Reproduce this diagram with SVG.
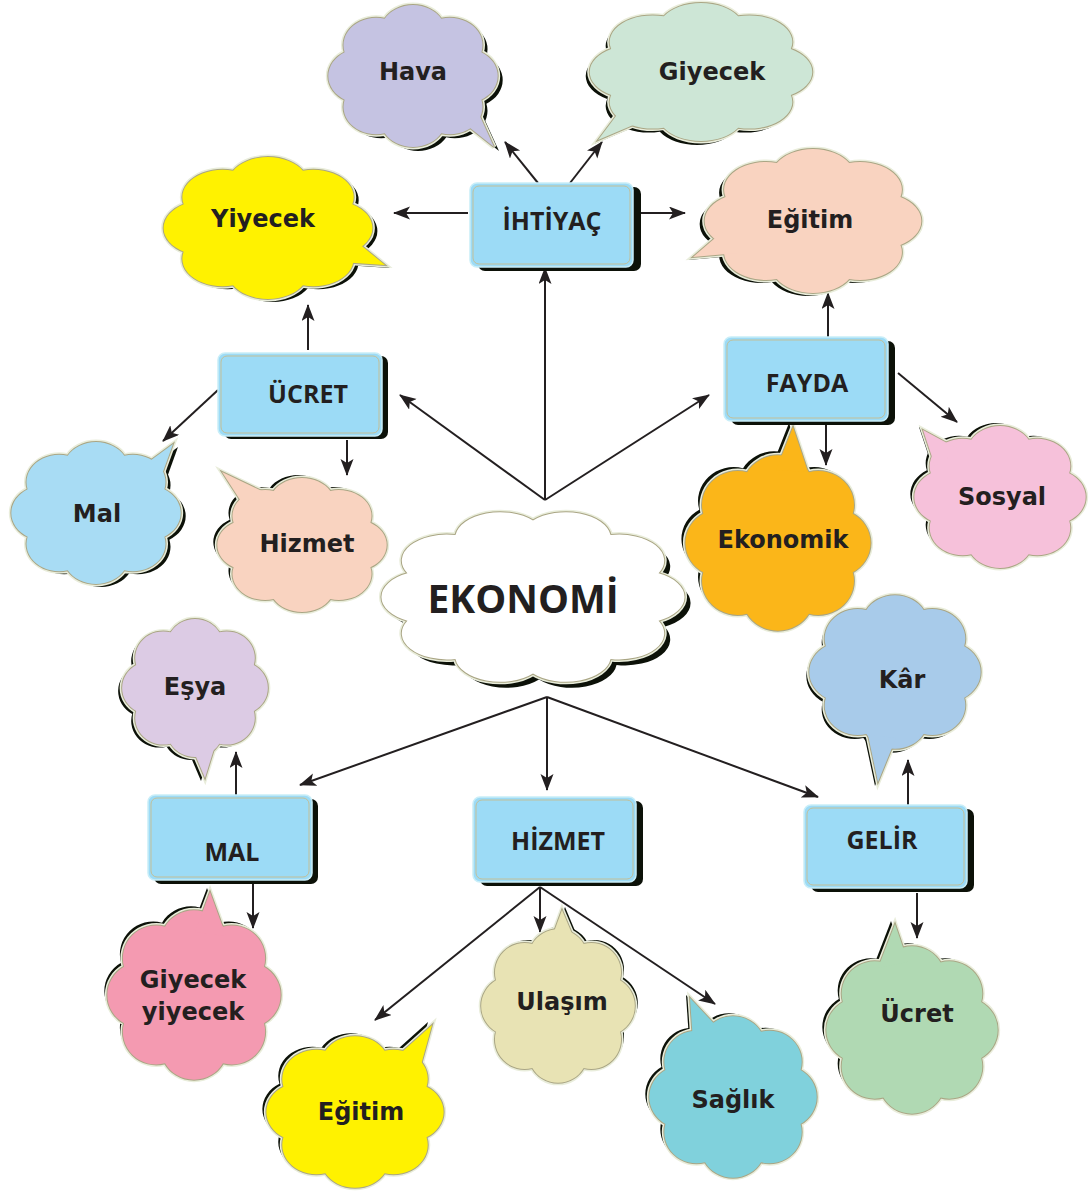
<svg xmlns="http://www.w3.org/2000/svg" xmlns:xlink="http://www.w3.org/1999/xlink" width="1090" height="1193" viewBox="0 0 1090 1193">
<style>
.sh{fill:#0c1108}
.halo{fill:none;stroke:#e9eddb;stroke-width:5}
.line{fill:none;stroke:#aaa685;stroke-width:2}
.ct{font-family:"DejaVu Sans","Liberation Sans",sans-serif;font-weight:bold;font-size:24px;fill:#231f20;text-anchor:middle}
.bs{fill:#0c1108}
.bf{fill:#9cdbf6;stroke:#c9eef8;stroke-width:1.5}
.bi{fill:none;stroke:#c2bf98;stroke-width:1}
.bt{font-family:"Open Sans","Liberation Sans",sans-serif;font-weight:bold;font-size:25px;fill:#231f20;text-anchor:middle}
.conn line{stroke:#231f20;stroke-width:2;marker-end:url(#ah)}
</style>
<defs>
<marker id="ah" markerUnits="userSpaceOnUse" markerWidth="18" markerHeight="14" refX="16" refY="6.5" orient="auto">
<path d="M0,0 L17,6.5 L0,13 L4,6.5 Z" fill="#231f20"/>
</marker>
<path id="cloud" vector-effect="non-scaling-stroke" d="M-32.9,-79.5 A38,38 0 0 1 32.9,-79.5 A38,38 0 0 1 79.5,-32.9 A38,38 0 0 1 79.5,32.9 A38,38 0 0 1 32.9,79.5 A38,38 0 0 1 -32.9,79.5 A38,38 0 0 1 -79.5,32.9 A38,38 0 0 1 -79.5,-32.9 A38,38 0 0 1 -32.9,-79.5 Z"/>
<path id="cloud10" vector-effect="non-scaling-stroke" d="M0,-88 A30,30 0 0 1 51.7,-71.2 A30,30 0 0 1 83.7,-27.2 A30,30 0 0 1 83.7,27.2 A30,30 0 0 1 51.7,71.2 A30,30 0 0 1 0,88 A30,30 0 0 1 -51.7,71.2 A30,30 0 0 1 -83.7,27.2 A30,30 0 0 1 -83.7,-27.2 A30,30 0 0 1 -51.7,-71.2 A30,30 0 0 1 0,-88 Z"/>
<g id="s-hava"><use xlink:href="#cloud" transform="translate(413,76) scale(.86,.72)"/><polygon points="465,124 494,147 478,112"/></g>
<g id="s-giyecek1"><use xlink:href="#cloud" transform="translate(701,72) scale(1.13,.70)"/><polygon points="622,108 598,140 645,120"/></g>
<g id="s-yiyecek"><use xlink:href="#cloud" transform="translate(268,228) scale(1.06,.72)"/><polygon points="352,238 385,265 340,262"/></g>
<g id="s-egitim1"><use xlink:href="#cloud" transform="translate(813,221) scale(1.10,.73)"/><polygon points="722,232 693,257 738,253"/></g>
<g id="s-mal"><use xlink:href="#cloud" transform="translate(96,513) scale(.86,.72)"/><polygon points="143,466 173,444 160,480"/></g>
<g id="s-hizmet"><use xlink:href="#cloud" transform="translate(302,545) scale(.86,.68)"/><polygon points="244,506 222,472 264,492"/></g>
<g id="s-ekonomik"><use xlink:href="#cloud" transform="translate(778,543) scale(.94,.89)"/><polygon points="776,470 793,427 808,472"/></g>
<g id="s-sosyal"><use xlink:href="#cloud" transform="translate(1000,497) scale(.87,.72)"/><polygon points="935,466 923,430 960,450"/></g>
<g id="s-ekonomi"><use xlink:href="#cloud10" transform="translate(533,597) scale(1.5,.87)"/></g>
<g id="s-kar"><use xlink:href="#cloud" transform="translate(895,672) scale(.87,.78)"/><polygon points="868,735 878,782 896,738"/></g>
<g id="s-esya"><use xlink:href="#cloud" transform="translate(195,688) scale(.74,.70)"/><polygon points="188,738 205,778 218,736"/></g>
<g id="s-gy"><use xlink:href="#cloud" transform="translate(194,995) scale(.88,.86)"/><polygon points="195,932 210,892 226,936"/></g>
<g id="s-ulasim"><use xlink:href="#cloud" transform="translate(558,1006) scale(.78,.78)"/><polygon points="548,948 562,910 578,948"/></g>
<g id="s-egitim2"><use xlink:href="#cloud" transform="translate(355,1112) scale(.90,.77)"/><polygon points="393,1060 432,1025 418,1076"/></g>
<g id="s-saglik"><use xlink:href="#cloud" transform="translate(733,1097) scale(.85,.82)"/><polygon points="693,1042 690,998 720,1030"/></g>
<g id="s-ucret2"><use xlink:href="#cloud" transform="translate(912,1030) scale(.87,.85)"/><polygon points="878,968 895,924 908,962"/></g>
</defs>
<rect width="1090" height="1193" fill="#ffffff"/>

<g id="connectors" class="conn">
<line x1="538" y1="183" x2="505" y2="142"/>
<line x1="570" y1="183" x2="602" y2="142"/>
<line x1="468" y1="213" x2="394" y2="213"/>
<line x1="638" y1="213" x2="685" y2="213"/>
<line x1="545" y1="500" x2="545" y2="268"/>
<line x1="545" y1="500" x2="400" y2="395"/>
<line x1="545" y1="500" x2="709" y2="395"/>
<line x1="308" y1="350" x2="308" y2="305"/>
<line x1="218" y1="390" x2="163" y2="441"/>
<line x1="347" y1="440" x2="347" y2="475"/>
<line x1="828" y1="337" x2="828" y2="293"/>
<line x1="898" y1="373" x2="957" y2="422"/>
<line x1="826" y1="421" x2="826" y2="465"/>
<line x1="547" y1="697" x2="300" y2="785"/>
<line x1="547" y1="697" x2="547" y2="790"/>
<line x1="547" y1="697" x2="818" y2="797"/>
<line x1="236" y1="796" x2="236" y2="752"/>
<line x1="253" y1="884" x2="253" y2="928"/>
<line x1="540" y1="887" x2="375" y2="1020"/>
<line x1="540" y1="887" x2="540" y2="932"/>
<line x1="540" y1="887" x2="715" y2="1004"/>
<line x1="908" y1="805" x2="908" y2="760"/>
<line x1="917" y1="893" x2="917" y2="938"/>
</g>

<g id="n-hava">
<use xlink:href="#s-hava" class="sh" transform="translate(5,4)"/>
<use xlink:href="#s-hava" class="halo"/><use xlink:href="#s-hava" class="line"/>
<use xlink:href="#s-hava" fill="#c5c3e2"/>
<text class="ct" x="413" y="80">Hava</text>
</g>
<g id="n-giyecek-top">
<use xlink:href="#s-giyecek1" class="sh" transform="translate(-4,4)"/>
<use xlink:href="#s-giyecek1" class="halo"/><use xlink:href="#s-giyecek1" class="line"/>
<use xlink:href="#s-giyecek1" fill="#cde6d6"/>
<text class="ct" x="712" y="80">Giyecek</text>
</g>
<g id="n-yiyecek">
<use xlink:href="#s-yiyecek" class="sh" transform="translate(5,3)"/>
<use xlink:href="#s-yiyecek" class="halo"/><use xlink:href="#s-yiyecek" class="line"/>
<use xlink:href="#s-yiyecek" fill="#fff200"/>
<text class="ct" x="263" y="227">Yiyecek</text>
</g>
<g id="n-egitim-top">
<use xlink:href="#s-egitim1" class="sh" transform="translate(-5,3)"/>
<use xlink:href="#s-egitim1" class="halo"/><use xlink:href="#s-egitim1" class="line"/>
<use xlink:href="#s-egitim1" fill="#f9d3c0"/>
<text class="ct" x="810" y="228">Eğitim</text>
</g>
<g id="n-mal-cloud">
<use xlink:href="#s-mal" class="sh" transform="translate(5,3)"/>
<use xlink:href="#s-mal" class="halo"/><use xlink:href="#s-mal" class="line"/>
<use xlink:href="#s-mal" fill="#a8dcf4"/>
<text class="ct" x="97" y="522">Mal</text>
</g>
<g id="n-hizmet-cloud">
<use xlink:href="#s-hizmet" class="sh" transform="translate(-4,-3)"/>
<use xlink:href="#s-hizmet" class="halo"/><use xlink:href="#s-hizmet" class="line"/>
<use xlink:href="#s-hizmet" fill="#f9d3c0"/>
<text class="ct" x="307" y="552">Hizmet</text>
</g>
<g id="n-ekonomik">
<use xlink:href="#s-ekonomik" class="sh" transform="translate(-4,-4)"/>
<use xlink:href="#s-ekonomik" class="halo"/><use xlink:href="#s-ekonomik" class="line"/>
<use xlink:href="#s-ekonomik" fill="#fbb619"/>
<text class="ct" x="783" y="548">Ekonomik</text>
</g>
<g id="n-sosyal">
<use xlink:href="#s-sosyal" class="sh" transform="translate(-4,-3)"/>
<use xlink:href="#s-sosyal" class="halo"/><use xlink:href="#s-sosyal" class="line"/>
<use xlink:href="#s-sosyal" fill="#f6c1da"/>
<text class="ct" x="1002" y="505">Sosyal</text>
</g>
<g id="n-ekonomi">
<use xlink:href="#s-ekonomi" class="sh" transform="translate(6,6)"/>
<use xlink:href="#s-ekonomi" class="halo"/><use xlink:href="#s-ekonomi" class="line"/>
<use xlink:href="#s-ekonomi" fill="#ffffff"/>
<text x="523" y="613" style="font-family:'Open Sans','Liberation Sans',sans-serif;font-weight:bold;font-size:39px;fill:#231f20;text-anchor:middle">EKONOMİ</text>
</g>
<g id="n-kar">
<use xlink:href="#s-kar" class="sh" transform="translate(-3,4)"/>
<use xlink:href="#s-kar" class="halo"/><use xlink:href="#s-kar" class="line"/>
<use xlink:href="#s-kar" fill="#a8cbea"/>
<text class="ct" x="902" y="688">Kâr</text>
</g>
<g id="n-esya">
<use xlink:href="#s-esya" class="sh" transform="translate(-4,3)"/>
<use xlink:href="#s-esya" class="halo"/><use xlink:href="#s-esya" class="line"/>
<use xlink:href="#s-esya" fill="#dccbe4"/>
<text class="ct" x="195" y="695">Eşya</text>
</g>
<g id="n-giyecek-yiyecek">
<use xlink:href="#s-gy" class="sh" transform="translate(-3,-4)"/>
<use xlink:href="#s-gy" class="halo"/><use xlink:href="#s-gy" class="line"/>
<use xlink:href="#s-gy" fill="#f49ab1"/>
<text class="ct" x="193" y="988">Giyecek</text>
<text class="ct" x="193" y="1020">yiyecek</text>
</g>
<g id="n-ulasim">
<use xlink:href="#s-ulasim" class="sh" transform="translate(3,-3)"/>
<use xlink:href="#s-ulasim" class="halo"/><use xlink:href="#s-ulasim" class="line"/>
<use xlink:href="#s-ulasim" fill="#e8e3b4"/>
<text class="ct" x="562" y="1010">Ulaşım</text>
</g>
<g id="n-egitim-bottom">
<use xlink:href="#s-egitim2" class="sh" transform="translate(-4,-3)"/>
<use xlink:href="#s-egitim2" class="halo"/><use xlink:href="#s-egitim2" class="line"/>
<use xlink:href="#s-egitim2" fill="#fff200"/>
<text class="ct" x="361" y="1120">Eğitim</text>
</g>
<g id="n-saglik">
<use xlink:href="#s-saglik" class="sh" transform="translate(-4,-3)"/>
<use xlink:href="#s-saglik" class="halo"/><use xlink:href="#s-saglik" class="line"/>
<use xlink:href="#s-saglik" fill="#80d1dc"/>
<text class="ct" x="733" y="1108">Sağlık</text>
</g>
<g id="n-ucret-bottom">
<use xlink:href="#s-ucret2" class="sh" transform="translate(-4,-3)"/>
<use xlink:href="#s-ucret2" class="halo"/><use xlink:href="#s-ucret2" class="line"/>
<use xlink:href="#s-ucret2" fill="#b0d9b3"/>
<text class="ct" x="917" y="1022">Ücret</text>
</g>

<g id="n-ihtiyac">
<rect class="bs" x="478" y="187" width="163" height="84" rx="7"/>
<rect class="bf" x="470" y="183" width="163" height="84" rx="7"/>
<rect class="bi" x="473" y="186" width="157" height="78" rx="6"/>
<text class="bt" x="552" y="230">İHTİYAÇ</text>
</g>
<g id="n-ucret">
<rect class="bs" x="224" y="356" width="164" height="83" rx="7"/>
<rect class="bf" x="218" y="353" width="164" height="83" rx="7"/>
<rect class="bi" x="221" y="356" width="158" height="77" rx="6"/>
<text class="bt" x="308" y="403">ÜCRET</text>
</g>
<g id="n-fayda">
<rect class="bs" x="731" y="341" width="164" height="84" rx="7"/>
<rect class="bf" x="724" y="337" width="164" height="84" rx="7"/>
<rect class="bi" x="727" y="340" width="158" height="78" rx="6"/>
<text class="bt" x="807" y="392">FAYDA</text>
</g>
<g id="n-mal">
<rect class="bs" x="154" y="799" width="164" height="85" rx="7"/>
<rect class="bf" x="148" y="795" width="164" height="85" rx="7"/>
<rect class="bi" x="151" y="798" width="158" height="79" rx="6"/>
<text class="bt" x="232" y="861">MAL</text>
</g>
<g id="n-hizmet">
<rect class="bs" x="480" y="801" width="163" height="85" rx="7"/>
<rect class="bf" x="473" y="797" width="163" height="85" rx="7"/>
<rect class="bi" x="476" y="800" width="157" height="79" rx="6"/>
<text class="bt" x="558" y="850">HİZMET</text>
</g>
<g id="n-gelir">
<rect class="bs" x="811" y="809" width="163" height="83" rx="7"/>
<rect class="bf" x="804" y="805" width="163" height="83" rx="7"/>
<rect class="bi" x="807" y="808" width="157" height="77" rx="6"/>
<text class="bt" x="882" y="849">GELİR</text>
</g>
</svg>
